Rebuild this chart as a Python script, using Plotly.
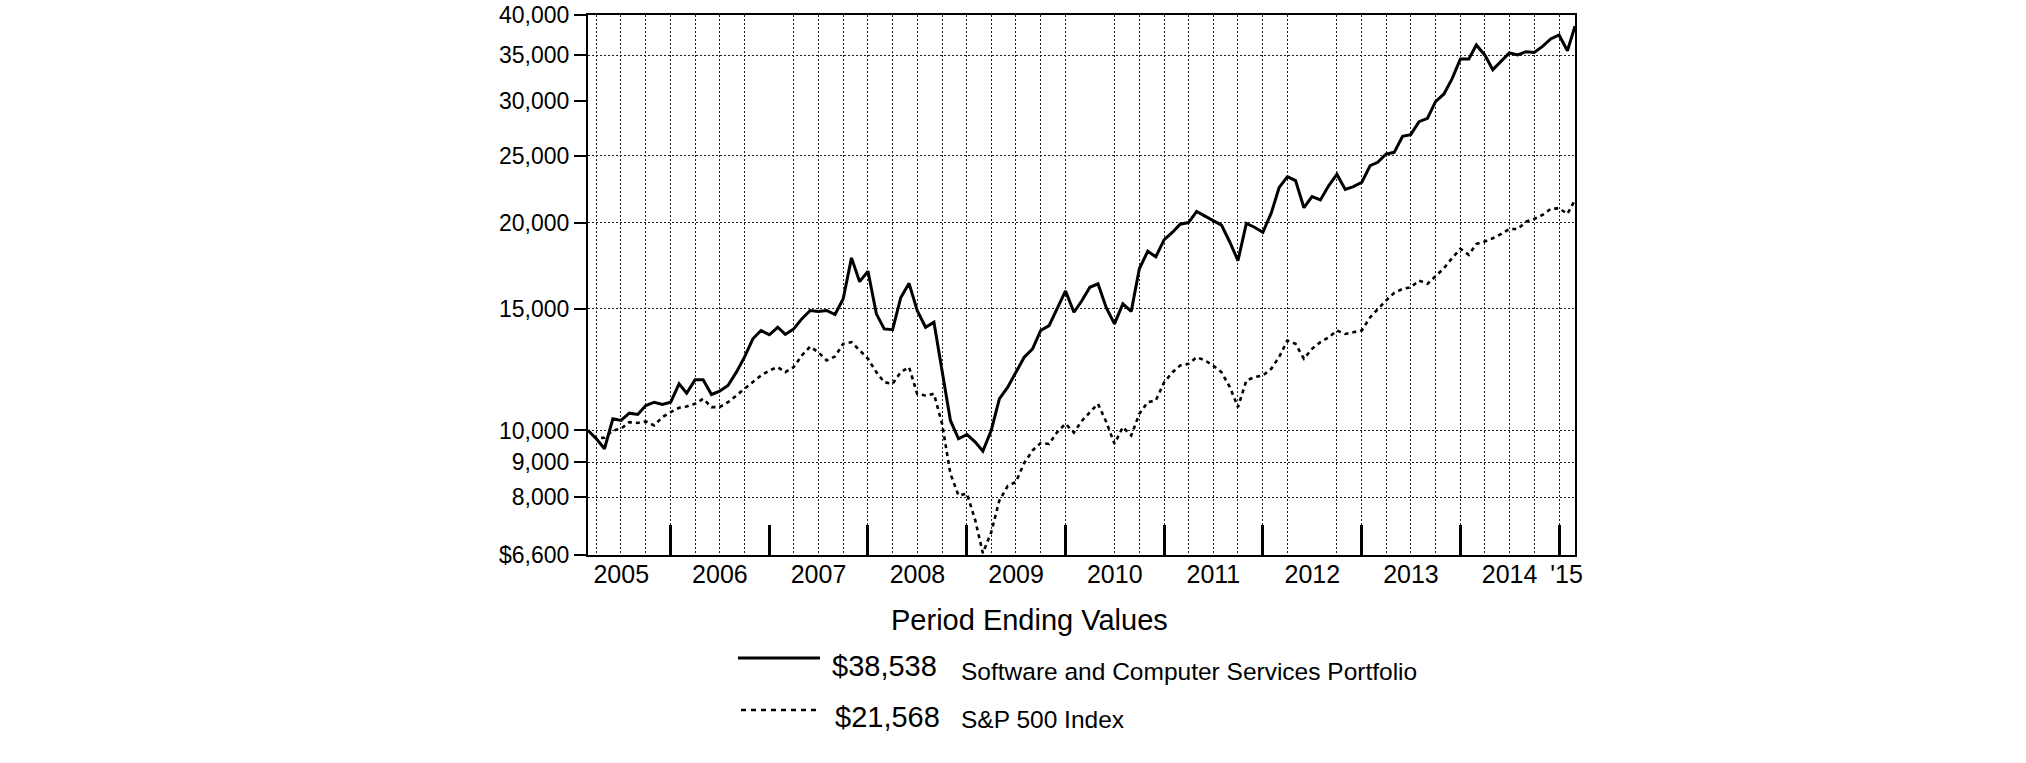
import math
import plotly.graph_objects as go
import pandas as pd

# ---------------- data ----------------
portfolio_values = [
    10000, 9727, 9408, 10398, 10340, 10594, 10548, 10869, 10989, 10905,
    10989, 11685, 11324, 11840, 11840, 11275, 11400, 11620, 12148, 12770,
    13578, 13960, 13760, 14110, 13780, 14035, 14510, 14922, 14870, 14922,
    14723, 15510, 17787, 16430, 17010, 14757, 14035, 14000, 15565, 16338,
    14922, 14110, 14352, 12250, 10340, 9727, 9867, 9618, 9334, 10000,
    11115, 11555, 12148, 12770, 13131, 13960, 14191, 15005, 15930, 14836,
    15390, 16124, 16310, 15050, 14270, 15260, 14880, 17150, 18180, 17850,
    18900, 19380, 19900, 20010, 20770, 20450, 20143, 19840, 18740, 17627,
    19960, 19700, 19375, 20650, 22480, 23323, 23014, 21030, 21830, 21582,
    22640, 23500, 22350, 22560, 22887, 24196, 24465, 25155, 25295, 26680,
    26834, 28023, 28333, 29962, 30737, 32314, 34545, 34545, 36198, 35011,
    33330, 34345, 35237, 35011, 35394, 35300, 36024, 36930, 37426, 35499,
    38538,
]
sp500_values = [
    10000, 9750, 9760, 10000, 10057, 10282, 10255, 10305, 10168, 10455,
    10629, 10785, 10834, 10930, 11115, 10809, 10809, 10989, 11239, 11492,
    11749, 12013, 12214, 12353, 12148, 12353, 12842, 13232, 12986, 12633,
    12800, 13353, 13427, 13060, 12704, 12148, 11749, 11685, 12148, 12353,
    11300, 11239, 11300, 10226, 8655, 8050, 8100, 7408, 6640, 7120,
    7916, 8310, 8420, 8970, 9355, 9590, 9560, 9945, 10226, 9930,
    10310, 10629, 10930, 10282, 9566, 10111, 9835, 10572, 10989, 11053,
    11749, 12148, 12420, 12490, 12770, 12633, 12420, 12148, 11555, 10809,
    11814, 11947, 12013, 12283, 12770, 13499, 13353, 12704, 13131, 13427,
    13650, 13960, 13800, 13880, 13960, 14590, 15005, 15431, 15823, 16036,
    16124, 16491, 16310, 16733, 17180, 17768, 18334, 17970, 18637, 18782,
    18991, 19270, 19588, 19588, 20071, 20254, 20530, 20943, 20988, 20600,
    21568,
]
series_names = ["Software and Computer Services Portfolio", "S&P 500 Index"]
ending_labels = ["$38,538", "$21,568"]
axis_title = "Period Ending Values"

y_tick_values = [6600, 8000, 9000, 10000, 15000, 20000, 25000, 30000, 35000, 40000]
y_tick_labels = ["$6,600", "8,000", "9,000", "10,000", "15,000", "20,000",
                 "25,000", "30,000", "35,000", "40,000"]
y_grid_values = [8000, 9000, 10000, 15000, 20000, 25000, 35000]

year_labels = ["2005", "2006", "2007", "2008", "2009", "2010", "2011",
               "2012", "2013", "2014", "'15"]
year_label_dates = [f"{y}-07-01" for y in range(2005, 2015)] + ["2015-01-28"]
year_end_dates = [f"{y}-12-31" for y in range(2005, 2015)]

# month-end dates Feb 2005 .. Feb 2015
dates = [pd.Timestamp("2005-02-28") + pd.offsets.MonthEnd(k) for k in range(121)]
missing_grid = {pd.Timestamp("2006-12-31"), pd.Timestamp("2010-03-31"),
                pd.Timestamp("2012-06-30")}
quarter_dates = [d for d in dates if d.month in (3, 6, 9, 12) and d not in missing_grid]

# ---------------- geometry (page pixels) ----------------
W, H = 2026, 763
L, R, T, B = 588, 1575, 15, 555   # plot area


def px(x):
    return (x - L) / (R - L)


def py(y):
    return (B - y) / (B - T)


FONT = "Liberation Sans, Arial, Helvetica, sans-serif"
x_range = [dates[0], dates[-1]]
y_range = [math.log10(6600), math.log10(40000)]
GRID = dict(gridcolor="#222", gridwidth=1, griddash="2px,2px")

fig = go.Figure()
fig.add_trace(go.Scatter(
    x=dates, y=portfolio_values, mode="lines", name=series_names[0],
    line=dict(color="black", width=3), showlegend=False,
))
fig.add_trace(go.Scatter(
    x=dates, y=sp500_values, mode="lines", name=series_names[1],
    line=dict(color="black", width=2.6, dash="4px,4px"),
    xaxis="x2", yaxis="y2", showlegend=False,
))

fig.update_layout(
    width=W, height=H, autosize=False,
    margin=dict(l=L, r=W - R, t=T, b=H - B, pad=0),
    paper_bgcolor="white", plot_bgcolor="white",
    font=dict(family=FONT, color="black", size=24),
    # main x: year-end inside ticks + quarterly dotted grid
    xaxis=dict(
        type="date", range=x_range, showline=True, linecolor="black",
        linewidth=2, mirror=True, showgrid=False, zeroline=False, automargin=False,
        tickmode="array", tickvals=year_end_dates, ticktext=[""] * len(year_end_dates),
        ticks="inside", ticklen=30, tickwidth=3, tickcolor="black",
        showticklabels=False,
        minor=dict(tickmode="array", tickvals=quarter_dates, showgrid=True, ticks="", **GRID),
    ),
    # main y: horizontal dotted grid only
    yaxis=dict(
        type="log", range=y_range, automargin=False,
        showline=True, linecolor="black", linewidth=2, mirror=True,
        zeroline=False, tickmode="array", tickvals=y_grid_values,
        showgrid=True, ticks="", showticklabels=False, **GRID,
    ),
    # overlay x: year labels
    xaxis2=dict(
        type="date", range=x_range, overlaying="x", anchor="y2", side="bottom",
        showline=False, showgrid=False, zeroline=False, ticks="", automargin=False,
        tickmode="array", tickvals=year_label_dates, ticktext=year_labels,
        tickfont=dict(size=25), ticklabelstandoff=2, ticklabeloverflow="allow",
    ),
    # overlay y: value labels and outside ticks
    yaxis2=dict(
        type="log", range=y_range, overlaying="y", anchor="x2", side="left",
        showline=False, showgrid=False, zeroline=False, automargin=False,
        tickmode="array", tickvals=y_tick_values, ticktext=y_tick_labels,
        ticks="outside", ticklen=13, tickwidth=2, tickcolor="black",
        tickfont=dict(size=23), ticklabeloverflow="allow",
    ),
)

# axis title / legend (manual, pixel-positioned)
annotations = [
    dict(text=axis_title, x=px(889), y=py(620), font=dict(size=29)),
    dict(text=ending_labels[0], x=px(830), y=py(666), font=dict(size=29)),
    dict(text=series_names[0], x=px(959), y=py(671), font=dict(size=24.5)),
    dict(text=ending_labels[1], x=px(833), y=py(717), font=dict(size=29)),
    dict(text=series_names[1], x=px(959), y=py(719), font=dict(size=24.5)),
]
for a in annotations:
    fig.add_annotation(xref="paper", yref="paper", xanchor="left", yanchor="middle",
                       showarrow=False, **a)

fig.add_shape(type="line", xref="paper", yref="paper",
              x0=px(738), x1=px(820), y0=py(658), y1=py(658),
              line=dict(color="black", width=3))
fig.add_shape(type="line", xref="paper", yref="paper",
              x0=px(741), x1=px(816), y0=py(710), y1=py(710),
              line=dict(color="black", width=2.6, dash="5px,5px"))

# remove the default 8px page margin so the figure fills the window exactly
fig.write_html("out.html", config={"displayModeBar": False},
               post_script="document.body.style.margin='0';")
